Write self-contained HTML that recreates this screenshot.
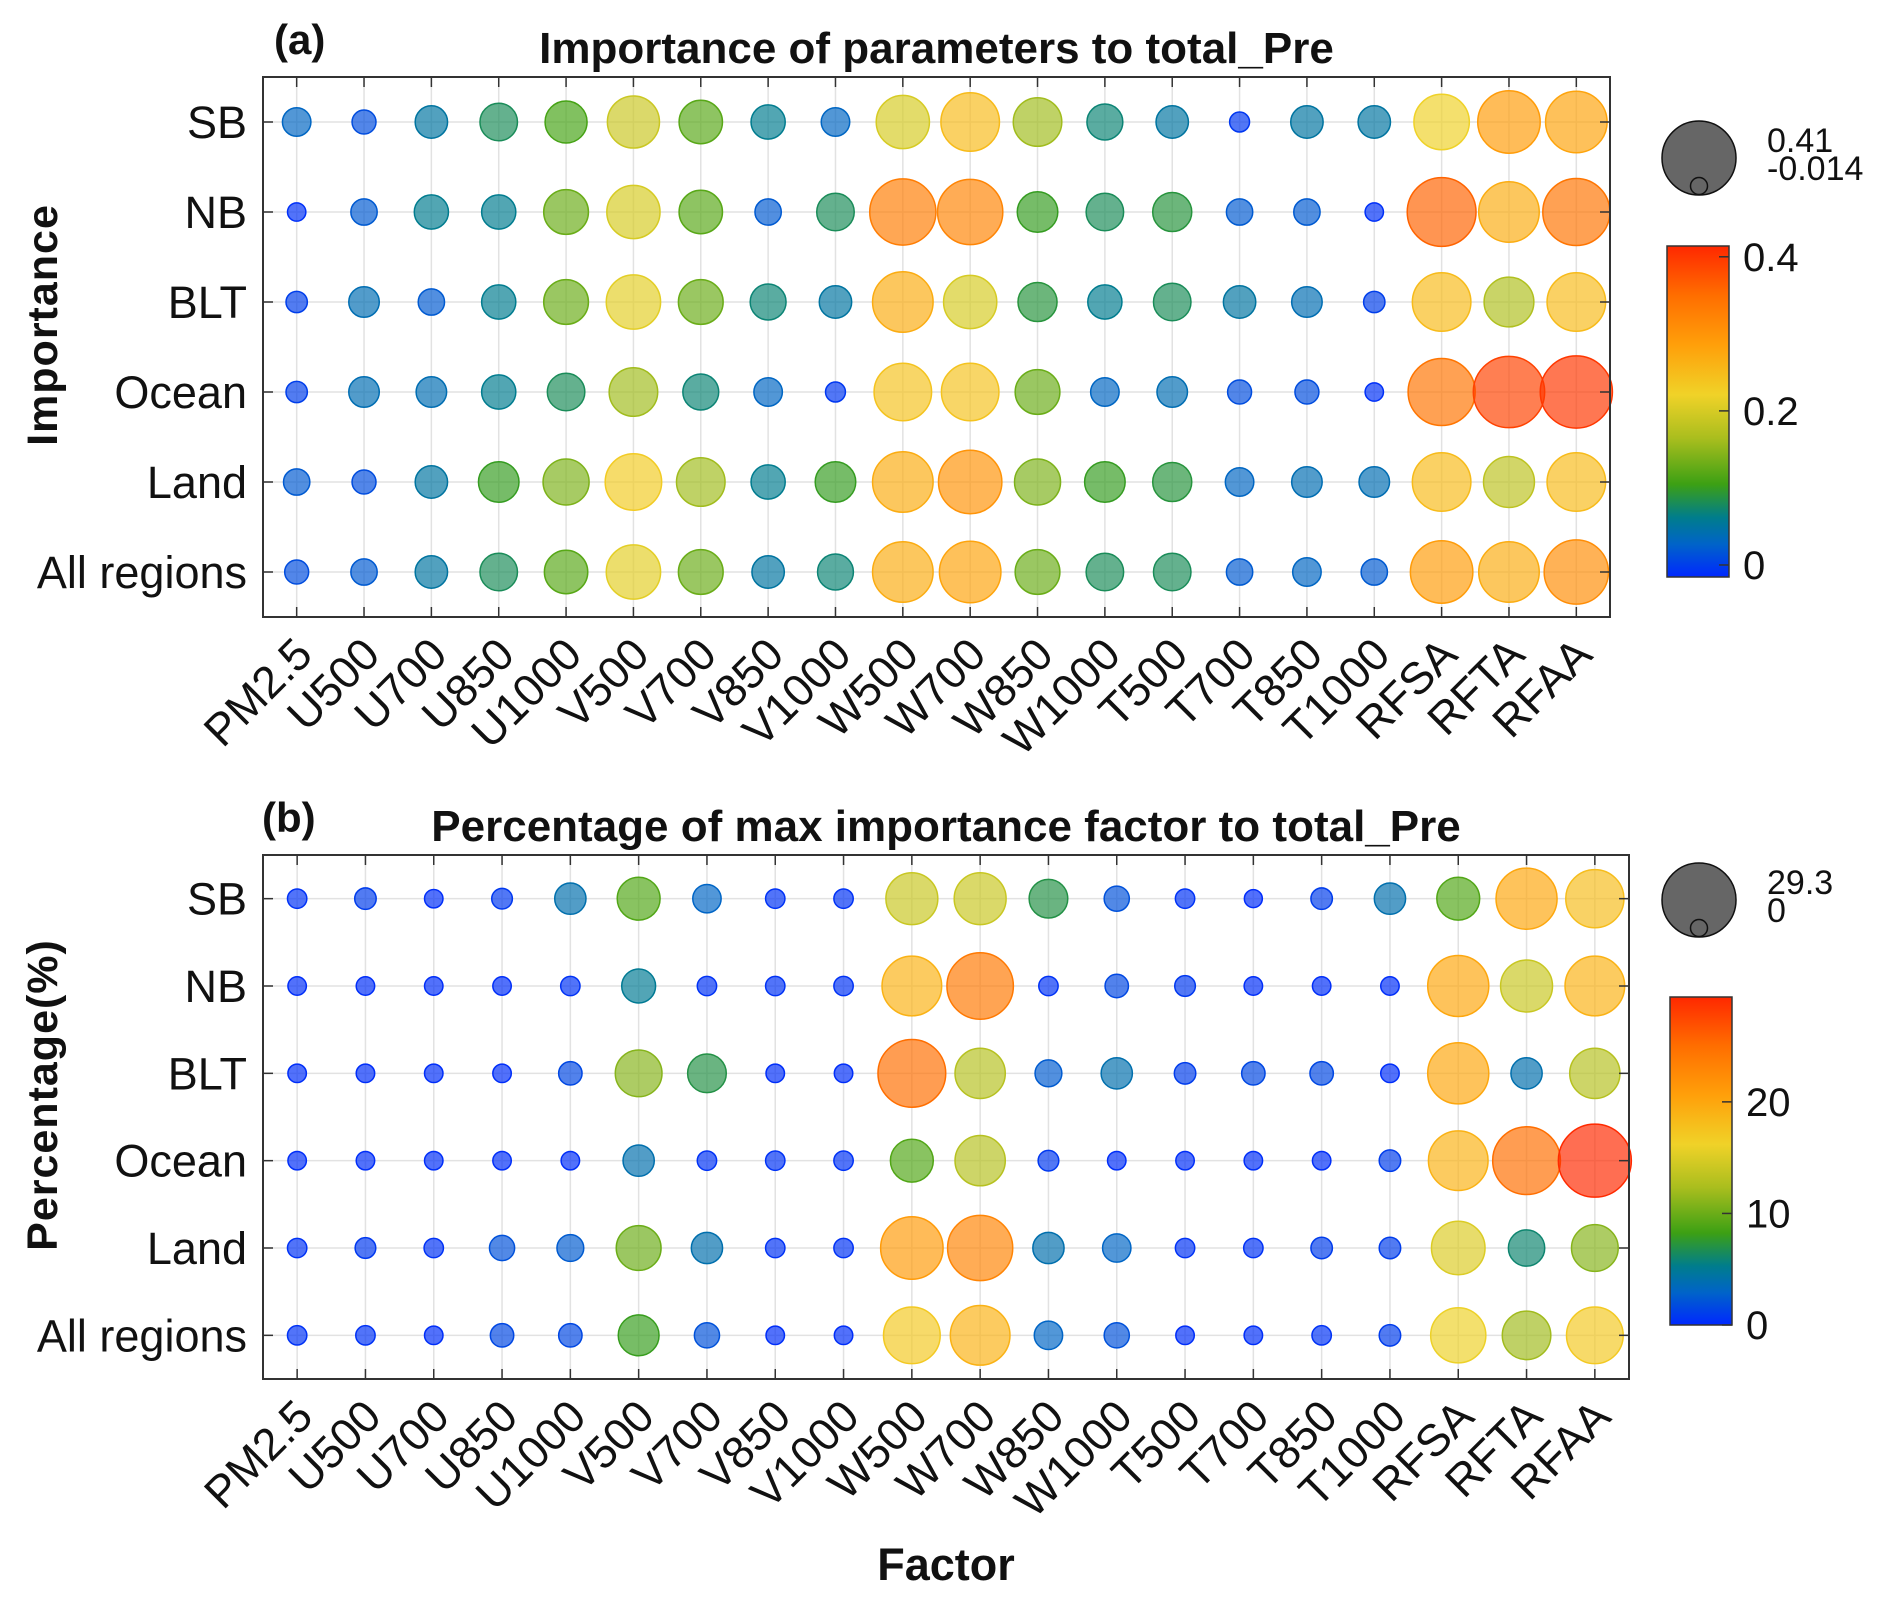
<!DOCTYPE html>
<html><head><meta charset="utf-8"><style>
html,body{margin:0;padding:0;background:#fff;}
svg text{font-family:"Liberation Sans",Arial,sans-serif;fill:#111;}
</style></head><body>
<svg id="chart" width="1892" height="1600" viewBox="0 0 1892 1600" xmlns="http://www.w3.org/2000/svg">
<defs>
<linearGradient id="cmap" x1="0" y1="1" x2="0" y2="0">
<stop offset="0" stop-color="rgb(0,40,255)"/><stop offset="0.1" stop-color="rgb(0,100,200)"/><stop offset="0.18" stop-color="rgb(0,125,140)"/><stop offset="0.28" stop-color="rgb(60,160,20)"/><stop offset="0.42" stop-color="rgb(170,190,30)"/><stop offset="0.55" stop-color="rgb(240,210,40)"/><stop offset="0.7" stop-color="rgb(255,160,10)"/><stop offset="0.85" stop-color="rgb(255,110,0)"/><stop offset="1" stop-color="rgb(255,40,0)"/>
</linearGradient>
</defs>
<g id="panelA"></g>
<g id="panelB"></g>
</svg>
<script>
const factors = ["PM2.5","U500","U700","U850","U1000","V500","V700","V850","V1000","W500","W700","W850","W1000","T500","T700","T850","T1000","RFSA","RFTA","RFAA"];
const regions = ["SB","NB","BLT","Ocean","Land","All regions"];
const importanceSB = [0.03,0.01,0.05,0.08,0.11,0.19,0.12,0.06,0.03,0.20,0.25,0.16,0.07,0.05,-0.005,0.05,0.05,0.22,0.29,0.28];
const importanceNB = [-0.01,0.02,0.06,0.06,0.13,0.20,0.12,0.02,0.08,0.33,0.32,0.10,0.08,0.09,0.02,0.02,-0.01,0.36,0.27,0.34];
const importanceBLT = [0.0,0.04,0.02,0.06,0.13,0.21,0.13,0.07,0.05,0.27,0.20,0.09,0.06,0.08,0.05,0.04,0.0,0.25,0.17,0.25];
const importanceOcean = [0.0,0.04,0.04,0.06,0.08,0.16,0.07,0.03,-0.005,0.24,0.24,0.13,0.03,0.04,0.01,0.01,-0.01,0.34,0.39,0.40];
const importanceLand = [0.02,0.01,0.05,0.10,0.14,0.23,0.16,0.06,0.10,0.27,0.30,0.14,0.10,0.09,0.03,0.04,0.04,0.25,0.18,0.25];
const importanceAll = [0.01,0.02,0.05,0.08,0.12,0.21,0.13,0.05,0.07,0.27,0.28,0.13,0.08,0.08,0.02,0.03,0.02,0.29,0.27,0.31];
const pctSB = [0.5,1,0.3,0.8,4,9,3,0.5,0.5,14,14,7,2,0.5,0.2,1,4,9,20,18];
const pctNB = [0.3,0.3,0.3,0.3,0.5,5,0.5,0.5,0.5,19,24,0.5,1.5,0.8,0.3,0.3,0.3,20,14,19];
const pctBLT = [0.3,0.3,0.3,0.3,1.5,11,7,0.3,0.3,25,13,2.5,4,1,1.5,1.5,0.3,20,4,13];
const pctOcean = [0.3,0.3,0.3,0.3,0.3,4,0.5,0.5,0.5,9,13,0.8,0.3,0.3,0.3,0.3,1,19,25,29.3];
const pctLand = [0.5,0.8,0.5,2,2.5,10,4,0.5,0.5,21,23,4,3,0.5,0.5,1,1,15,6,11];
const pctAll = [0.5,0.5,0.3,1.5,1.5,8,2,0.3,0.3,17,19,3,2,0.3,0.3,0.5,1,16,12,17];
const cbTicksA = [0,0.2,0.4];
const cbTickLabelsA = ["0","0.2","0.4"];
const cbTicksB = [0,10,20];
const cbTickLabelsB = ["0","10","20"];

const NS="http://www.w3.org/2000/svg";
const stops=[[0,[0,40,255]],[0.1,[0,100,200]],[0.18,[0,125,140]],[0.28,[60,160,20]],[0.42,[170,190,30]],[0.55,[240,210,40]],[0.7,[255,160,10]],[0.85,[255,110,0]],[1,[255,40,0]]];
function cmap(t){t=Math.max(0,Math.min(1,t));for(let i=1;i<stops.length;i++){if(t<=stops[i][0]){const a=stops[i-1],b=stops[i];const f=(t-a[0])/(b[0]-a[0]);const c=a[1].map((v,k)=>Math.round(v+(b[1][k]-v)*f));return `rgb(${c[0]},${c[1]},${c[2]})`;}}return "rgb(255,40,0)";}
function mk(parent,tag,attrs,text){const e=document.createElementNS(NS,tag);for(const k in attrs)e.setAttribute(k,attrs[k]);if(text!==undefined)e.textContent=text;parent.appendChild(e);return e;}

function drawPanel(g,cfg){
  const {left,right,top,bottom,rowsData,vmin,vmax,cb,cbTicks,cbLabels,title,tag,ylabel,legend}=cfg;
  const xs=i=>left+(i+0.5)*(right-left)/factors.length;
  const ys=j=>top+(j+0.5)*(bottom-top)/regions.length;
  const dmin=17,dmax=73;
  const diam=v=>Math.sqrt(dmin*dmin+(v-vmin)/(vmax-vmin)*(dmax*dmax-dmin*dmin));
  for(let i=0;i<factors.length;i++){const l=mk(g,'line',{x1:xs(i),x2:xs(i),y1:top,y2:bottom,stroke:'#e2e2e2','stroke-width':1.5});
    
    }
  for(let j=0;j<regions.length;j++){const l=mk(g,'line',{x1:left,x2:right,y1:ys(j),y2:ys(j),stroke:'#e2e2e2','stroke-width':1.5});
    
    }
  rowsData.forEach((row,j)=>{row.forEach((v,i)=>{
    const c=cmap((v-cb[0])/(cb[1]-cb[0]));
    const el=mk(g,'circle',{cx:xs(i),cy:ys(j),r:diam(v)/2,fill:c,'fill-opacity':0.68,stroke:c,'stroke-width':1.5});
    
    
  });});
  const box=mk(g,'rect',{x:left,y:top,width:right-left,height:bottom-top,fill:'none',stroke:'#333','stroke-width':2});
  
  
  for(let i=0;i<factors.length;i++){
    mk(g,'line',{x1:xs(i),x2:xs(i),y1:bottom,y2:bottom-10,stroke:'#333','stroke-width':1.5});
    mk(g,'line',{x1:xs(i),x2:xs(i),y1:top,y2:top+10,stroke:'#333','stroke-width':1.5});
    const t=mk(g,'text',{x:0,y:0,'text-anchor':'end','font-size':45,transform:`translate(${xs(i)+18},${bottom+40}) rotate(-45)`},factors[i]);
    
    
  }
  for(let j=0;j<regions.length;j++){
    mk(g,'line',{x1:left,x2:left+10,y1:ys(j),y2:ys(j),stroke:'#333','stroke-width':1.5});
    mk(g,'line',{x1:right,x2:right-10,y1:ys(j),y2:ys(j),stroke:'#333','stroke-width':1.5});
    const t=mk(g,'text',{x:left-16,y:ys(j)+16,'text-anchor':'end','font-size':45},regions[j]);
    
    
  }
  const ti=mk(g,'text',{x:(left+right)/2+(cfg.titleDx||0),y:top-14,'text-anchor':'middle','font-size':44,'font-weight':'bold'},title);
  
  
  const tg=mk(g,'text',{x:cfg.tagX,y:top-23,'font-size':42,'font-weight':'bold'},tag);
  
  
  const yl=mk(g,'text',{x:0,y:0,'text-anchor':'middle','font-size':43,'font-weight':'bold','letter-spacing':1,transform:`translate(57,${(top+bottom)/2-22}) rotate(-90)`},ylabel);
  
  
  const cbx=cfg.cbx,cbw=62,cbt=cfg.cbt,cbb=cfg.cbb;
  const cbr=mk(g,'rect',{x:cbx,y:cbt,width:cbw,height:cbb-cbt,fill:'url(#cmap)',stroke:'#333','stroke-width':1.5});
  
  
  cbTicks.forEach((v,k)=>{const y=cbb-(v-cb[0])/(cb[1]-cb[0])*(cbb-cbt);
    mk(g,'line',{x1:cbx+cbw-10,x2:cbx+cbw,y1:y,y2:y,stroke:'#333','stroke-width':1.5});
    const t=mk(g,'text',{x:cbx+cbw+14,y:y+14,'font-size':40},cbLabels[k]);
    
    });
  const lc=legend;
  const b1=mk(g,'circle',{cx:lc.x,cy:lc.y,r:37,fill:'#666',stroke:'#111','stroke-width':1.5});
  
  
  const b2=mk(g,'circle',{cx:lc.x,cy:lc.y+28,r:8.5,fill:'#666',stroke:'#111','stroke-width':1.5});
  
  
  const l1=mk(g,'text',{x:lc.x+68,y:lc.y-6,'font-size':34},lc.maxL);
  
  
  const l2=mk(g,'text',{x:lc.x+68,y:lc.y+22,'font-size':34},lc.minL);
  
  
}
drawPanel(document.getElementById('panelA'),{left:263,right:1610,top:77,bottom:617,
  rowsData:[importanceSB,importanceNB,importanceBLT,importanceOcean,importanceLand,importanceAll],
  vmin:-0.014,vmax:0.41,cb:[-0.0156,0.414],cbTicks:cbTicksA,cbLabels:cbTickLabelsA,
  title:"Importance of parameters to total_Pre",tag:"(a)",tagX:274,ylabel:"Importance",titleDx:0,
  cbx:1667,cbt:246,cbb:577,legend:{x:1699,y:158,maxL:"0.41",minL:"-0.014"}});
drawPanel(document.getElementById('panelB'),{left:263,right:1629,top:855,bottom:1379,
  rowsData:[pctSB,pctNB,pctBLT,pctOcean,pctLand,pctAll],
  vmin:0,vmax:29.3,cb:[0,29.4],cbTicks:cbTicksB,cbLabels:cbTickLabelsB,
  title:"Percentage of max importance factor to total_Pre",tag:"(b)",tagX:262,ylabel:"Percentage(%)",titleDx:0,
  cbx:1670,cbt:997,cbb:1325,legend:{x:1699,y:900,maxL:"29.3",minL:"0"}});
const fx=document.createElementNS(NS,'text');
fx.setAttribute('x',946);fx.setAttribute('y',1580);fx.setAttribute('text-anchor','middle');
fx.setAttribute('font-size',45);fx.setAttribute('font-weight','bold');fx.textContent='Factor';


document.getElementById('chart').appendChild(fx);
</script>
</body></html>
